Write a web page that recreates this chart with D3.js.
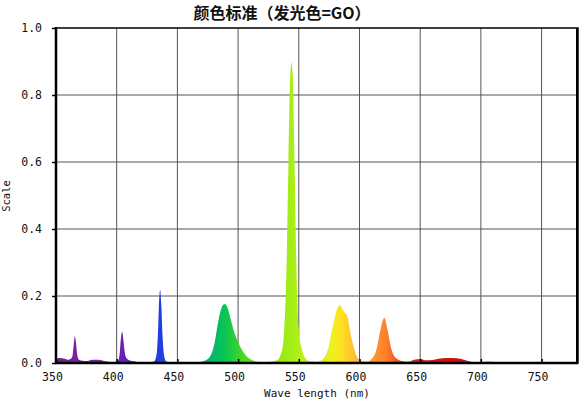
<!DOCTYPE html>
<html>
<head>
<meta charset="utf-8">
<script src="https://cdn.jsdelivr.net/npm/d3@7"></script>
<style>
  body { margin: 0; background: #fff; }
  svg { display: block; }
  text { font-family: "DejaVu Sans Mono", "Liberation Mono", monospace; fill: #111; }
</style>
</head>
<body>
<svg id="chart"></svg>
<script>
// wavelength (nm) samples of the measured spectrum
const wavelengths = [
  350, 353, 357, 360, 362, 363.5, 364.5, 365.5, 366.5, 367.5, 369, 372, 375, 380, 385, 390, 395,
  400, 401.5, 402.5, 403.5, 404.5, 405.5, 406.5, 408, 410, 413, 416, 420, 428,
  431, 433, 434, 435, 435.8, 436.8, 437.8, 439, 440.5, 443, 446, 460,
  470, 476, 480, 484, 487, 489, 491, 494, 497, 500, 503, 507, 512, 518, 525,
  532, 536, 538, 540, 541.5, 543, 544, 545, 546.5, 548, 550, 553, 556, 560, 565,
  570, 574, 578, 582, 584, 586, 588, 590, 592, 595, 598, 602, 606,
  610, 614, 617, 620.5, 623, 626, 630, 635, 640,
  645, 650, 655, 660, 665, 672, 680, 686, 690, 695, 700, 705, 710, 715, 780
];
// relative intensity at each wavelength
const intensity = [
  0.012, 0.015, 0.013, 0.010, 0.012, 0.020, 0.050, 0.080, 0.060, 0.025, 0.010, 0.007, 0.006, 0.010, 0.010, 0.006, 0.003,
  0.004, 0.010, 0.030, 0.075, 0.093, 0.070, 0.035, 0.015, 0.009, 0.006, 0.004, 0.002, 0.002,
  0.005, 0.030, 0.090, 0.190, 0.218, 0.170, 0.080, 0.025, 0.006, 0.002, 0.001, 0.001,
  0.004, 0.015, 0.050, 0.130, 0.170, 0.176, 0.168, 0.130, 0.090, 0.063, 0.040, 0.020, 0.008, 0.003, 0.003,
  0.008, 0.035, 0.100, 0.300, 0.600, 0.860, 0.896, 0.860, 0.600, 0.300, 0.100, 0.035, 0.012, 0.005, 0.004,
  0.012, 0.040, 0.110, 0.165, 0.173, 0.160, 0.150, 0.140, 0.100, 0.050, 0.018, 0.006, 0.004,
  0.012, 0.040, 0.095, 0.134, 0.100, 0.045, 0.015, 0.006, 0.004,
  0.010, 0.012, 0.008, 0.009, 0.013, 0.015, 0.014, 0.010, 0.005, 0.002, 0.002, 0.004, 0.003, 0.000, 0.000
];

// colour of the fill along the wavelength axis
const colorStops = [350, 365, 405, 425, 437, 460, 475, 485, 495, 505, 520, 545, 565, 578, 585, 595, 610, 622, 635, 650, 680, 780];
const colorValues = ['#5c2a7a', '#7b1fa2', '#6a1fb5', '#3a2ad0', '#1f3fe6', '#1a90b0', '#10b070', '#00c060', '#20cc40',
  '#50d820', '#80e010', '#a8ee18', '#d0f020', '#f0f020', '#ffe020', '#ffc030', '#ff9a30', '#ff7f2a', '#e84020',
  '#d41818', '#cc1010', '#cc1010'];

const xTicks = [350, 400, 450, 500, 550, 600, 650, 700, 750];
const yTicks = [0, 0.2, 0.4, 0.6, 0.8, 1.0];

const width = 580, height = 399;
const margin = {top: 28, right: 2, bottom: 36, left: 56};

const svg = d3.select('#chart').attr('width', width).attr('height', height);

const x = d3.scaleLinear().domain([350, 780]).range([margin.left, width - margin.right]);
const y = d3.scaleLinear().domain([0, 1]).range([height - margin.bottom, margin.top]);

const data = wavelengths.map((w, i) => ({w: w, v: intensity[i]}));

// gradient for the spectrum fill
const grad = svg.append('defs').append('linearGradient')
  .attr('id', 'spec')
  .attr('gradientUnits', 'userSpaceOnUse')
  .attr('x1', x(350)).attr('x2', x(780)).attr('y1', 0).attr('y2', 0);
grad.selectAll('stop').data(colorStops).join('stop')
  .attr('offset', d => (d - 350) / (780 - 350))
  .attr('stop-color', (d, i) => colorValues[i]);

// grid
svg.append('g').selectAll('line').data(xTicks.slice(1)).join('line')
  .attr('x1', d => x(d)).attr('x2', d => x(d))
  .attr('y1', y(1)).attr('y2', y(0))
  .attr('stroke', '#555').attr('stroke-width', 1);
svg.append('g').selectAll('line').data(yTicks.slice(1, -1)).join('line')
  .attr('x1', x(350)).attr('x2', x(780))
  .attr('y1', d => y(d)).attr('y2', d => y(d))
  .attr('stroke', '#555').attr('stroke-width', 1);

// spectrum
const area = d3.area()
  .x(d => x(d.w))
  .y0(y(0))
  .y1(d => y(d.v))
  .curve(d3.curveMonotoneX);
svg.append('path').datum(data)
  .attr('d', area)
  .attr('fill', 'url(#spec)');

// frame
svg.append('rect')
  .attr('x', x(350)).attr('y', y(1))
  .attr('width', x(780) - x(350)).attr('height', y(0) - y(1))
  .attr('fill', 'none').attr('stroke', '#000').attr('stroke-width', 1.5);
svg.append('line').attr('x1', x(350)).attr('x2', x(350)).attr('y1', y(1) - 1).attr('y2', y(0) + 1)
  .attr('stroke', '#000').attr('stroke-width', 2.5);
svg.append('line').attr('x1', x(350) - 1).attr('x2', x(780)).attr('y1', y(0)).attr('y2', y(0))
  .attr('stroke', '#000').attr('stroke-width', 2.5);
svg.append('line').attr('x1', x(780) - 1).attr('x2', x(780) - 1).attr('y1', y(1)).attr('y2', y(0))
  .attr('stroke', '#000').attr('stroke-width', 2);

// axes
const xAxis = svg.append('g')
  .attr('transform', `translate(0,${y(0)})`)
  .call(d3.axisBottom(x).tickValues(xTicks).tickSize(-4).tickPadding(10).tickFormat(d3.format('d')));
xAxis.select('.domain').remove();
xAxis.selectAll('.tick line').attr('stroke', '#000').attr('stroke-width', 1.5);
xAxis.selectAll('.tick text').attr('dx', -4).style('font-size', '11.5px');

const yAxis = svg.append('g')
  .attr('transform', `translate(${x(350)},0)`)
  .call(d3.axisLeft(y).tickValues(yTicks).tickSize(4).tickPadding(10).tickFormat(d3.format('.1f')));
yAxis.select('.domain').remove();
yAxis.selectAll('.tick line').attr('stroke', '#000').attr('stroke-width', 1.5);
yAxis.selectAll('.tick text').style('font-size', '11.5px');

// labels
svg.append('text')
  .attr('x', 317).attr('y', 397)
  .attr('text-anchor', 'middle')
  .style('font-size', '11px')
  .text('Wave length (nm)');

svg.append('text')
  .attr('transform', 'translate(10,196) rotate(-90)')
  .attr('text-anchor', 'middle')
  .style('font-size', '10.5px')
  .text('Scale');

svg.append('text')
  .attr('x', 282).attr('y', 19)
  .attr('text-anchor', 'middle')
  .style('font-family', '"Noto Sans CJK SC", sans-serif')
  .style('font-weight', 'bold')
  .style('font-size', '16px')
  .text('颜色标准（发光色=GO）');
</script>
</body>
</html>
